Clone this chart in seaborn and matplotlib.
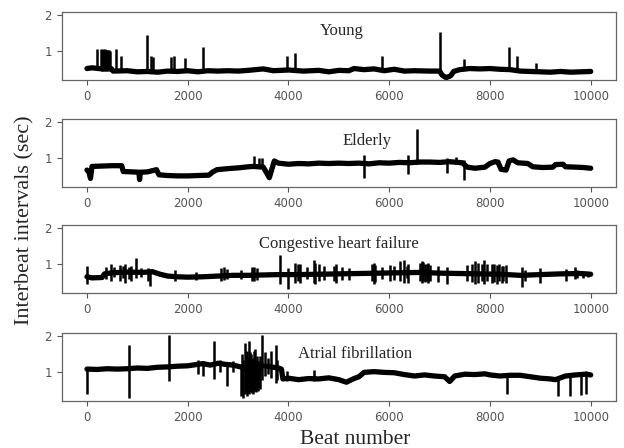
import numpy as np
import pandas as pd
import matplotlib
matplotlib.use("Agg")
import matplotlib.pyplot as plt
import seaborn as sns

# ---- baseline levels (beat, interval in sec) ----
young_beat = [0, 100, 300, 480, 520, 800, 1000, 1200, 1400, 1600, 1800, 2000, 2200, 2400,
              2600, 2800, 3000, 3200, 3500, 3700, 4000, 4300, 4600, 4800, 5000, 5200, 5300,
              5500, 5700, 5900, 6100, 6300, 6500, 6800, 7000, 7050, 7130, 7220, 7280, 7400,
              7600, 7800, 8000, 8200, 8400, 8600, 8800, 9000, 9200, 9400, 9600, 9800, 10000]
young_ibi = [0.53, 0.55, 0.52, 0.53, 0.46, 0.47, 0.44, 0.45, 0.43, 0.46, 0.45, 0.47, 0.44, 0.47,
             0.46, 0.47, 0.46, 0.48, 0.52, 0.47, 0.49, 0.46, 0.48, 0.44, 0.48, 0.47, 0.53,
             0.50, 0.52, 0.47, 0.51, 0.46, 0.47, 0.46, 0.46, 0.35, 0.28, 0.33, 0.45, 0.50,
             0.53, 0.52, 0.53, 0.51, 0.50, 0.46, 0.45, 0.44, 0.43, 0.45, 0.43, 0.44, 0.45]

elderly_beat = [0, 40, 70, 100, 300, 500, 690, 720, 900, 1030, 1045, 1060, 1200, 1380, 1430,
                1600, 1800, 2000, 2200, 2420, 2500, 2580, 2800, 3000, 3200, 3300, 3500, 3560,
                3620, 3680, 3720, 3800, 4000, 4200, 4400, 4600, 4800, 5000, 5200, 5400, 5600,
                5800, 6000, 6200, 6400, 6600, 6800, 7000, 7200, 7450, 7550, 7700, 7900, 8000,
                8100, 8160, 8220, 8320, 8380, 8460, 8550, 8750, 8850, 9050, 9250, 9300, 9450,
                9500, 9700, 9850, 10000]
elderly_ibi = [0.68, 0.62, 0.45, 0.78, 0.79, 0.80, 0.80, 0.64, 0.63, 0.62, 0.42, 0.62, 0.63, 0.69, 0.55,
               0.53, 0.52, 0.52, 0.53, 0.54, 0.63, 0.69, 0.72, 0.74, 0.77, 0.78, 0.76, 0.62,
               0.47, 0.75, 0.93, 0.87, 0.84, 0.86, 0.85, 0.87, 0.86, 0.87, 0.86, 0.87, 0.85,
               0.88, 0.87, 0.89, 0.88, 0.90, 0.90, 0.89, 0.91, 0.88, 0.76, 0.73, 0.76, 0.86,
               0.91, 0.90, 0.70, 0.68, 0.93, 0.96, 0.88, 0.86, 0.77, 0.75, 0.76, 0.83, 0.84,
               0.77, 0.76, 0.75, 0.73]

chf_beat = [0, 100, 300, 350, 500, 800, 1100, 1300, 1450, 1600, 1800, 2000, 2300, 2600, 2900,
            3200, 3500, 3800, 4200, 4600, 5000, 5400, 5800, 6200, 6600, 7000, 7400, 7800,
            8200, 8600, 9000, 9400, 9800, 10000]
chf_ibi = [0.66, 0.63, 0.64, 0.74, 0.77, 0.79, 0.78, 0.80, 0.73, 0.68, 0.66, 0.65, 0.66, 0.68, 0.70,
           0.70, 0.71, 0.72, 0.72, 0.73, 0.74, 0.75, 0.76, 0.77, 0.78, 0.76, 0.75, 0.74,
           0.73, 0.70, 0.72, 0.74, 0.75, 0.73]

af_beat = [0, 200, 400, 600, 800, 1000, 1200, 1400, 1600, 1800, 2000, 2150, 2300, 2450, 2600,
           2750, 2900, 3050, 3200, 3350, 3500, 3650, 3800, 3860, 3890, 4000, 4200, 4400, 4600,
           4800, 5000, 5150, 5300, 5400, 5500, 5700, 5900, 6100, 6300, 6500, 6700, 6900, 7100,
           7200, 7300, 7500, 7700, 7900, 8000, 8200, 8400, 8600, 8800, 9000, 9200, 9300, 9500,
           9700, 9900, 10000]
af_ibi = [1.09, 1.08, 1.10, 1.09, 1.10, 1.12, 1.11, 1.14, 1.15, 1.17, 1.18, 1.21, 1.24, 1.20, 1.25,
          1.22, 1.20, 1.15, 1.10, 1.12, 1.18, 1.15, 1.12, 1.09, 0.82, 0.84, 0.80, 0.83, 0.82,
          0.85, 0.80, 0.73, 0.83, 0.88, 1.00, 1.02, 1.00, 0.99, 0.94, 0.90, 0.93, 0.90, 0.88,
          0.75, 0.90, 0.95, 0.94, 0.96, 0.93, 0.90, 0.92, 0.92, 0.88, 0.84, 0.82, 0.80, 0.90,
          0.93, 0.95, 0.93]

# ---- ectopic beats / spikes: beat, lowest, highest value ----
young_spk_beat = [198, 280, 300, 320, 340, 360, 380, 400, 420, 440, 460, 575, 673, 1182, 1280,
                  1320, 1670, 1720, 1940, 2310, 3974, 4125, 5855, 7010, 7491, 8376, 8528, 8905]
young_spk_lo = [0.48, 0.48, 0.47, 0.48, 0.47, 0.48, 0.47, 0.48, 0.47, 0.48, 0.47, 0.44, 0.44, 0.43, 0.43,
                0.43, 0.44, 0.44, 0.44, 0.44, 0.45, 0.45, 0.45, 0.44, 0.48, 0.47, 0.46, 0.44]
young_spk_hi = [1.07, 1.07, 1.05, 1.06, 1.04, 1.06, 1.05, 1.04, 1.05, 1.03, 1.02, 1.06, 0.88, 1.46, 0.88,
                0.85, 0.85, 0.88, 0.81, 1.11, 0.88, 0.95, 0.88, 1.53, 0.79, 1.13, 0.88, 0.69]

elderly_spk_beat = [3314, 3412, 3478, 5492, 6383, 6548, 7142, 7320, 7485]
elderly_spk_lo = [0.78, 0.75, 0.75, 0.47, 0.56, 0.86, 0.60, 0.85, 0.40]
elderly_spk_hi = [1.06, 1.02, 1.02, 1.08, 1.08, 1.82, 1.02, 1.05, 0.95]

chf_spk_beat = [0, 376, 475, 541, 660, 706, 752, 838, 884, 970, 1069, 1215, 1254, 1749, 2158,
                2653, 2720, 2786, 3050, 3280, 3314, 3366, 3842, 4000, 4139, 4185, 4238, 4370,
                4502, 4535, 4601, 4700, 4898, 4950, 5063, 5195, 5657, 5690, 5723, 5855, 6020,
                6086, 6218, 6284, 6350, 6383, 6614, 6647, 6680, 6713, 6746, 6779, 6812, 6977,
                7142, 7538, 7637, 7703, 7769, 7835, 7881, 7934, 8033, 8079, 8132, 8185, 8231,
                8264, 8310, 8627, 8693, 8990, 9518, 9683, 9729, 9848, 9947]
chf_spk_lo = [0.45, 0.60, 0.55, 0.65, 0.55, 0.62, 0.50, 0.60, 0.55, 0.62, 0.65, 0.55, 0.42, 0.55, 0.58,
              0.55, 0.58, 0.60, 0.60, 0.55, 0.55, 0.58, 0.45, 0.33, 0.50, 0.55, 0.48, 0.60,
              0.50, 0.45, 0.55, 0.58, 0.55, 0.50, 0.58, 0.58, 0.55, 0.45, 0.52, 0.60, 0.55,
              0.58, 0.55, 0.50, 0.62, 0.48, 0.55, 0.50, 0.55, 0.52, 0.55, 0.50, 0.55, 0.52,
              0.45, 0.55, 0.52, 0.45, 0.50, 0.55, 0.45, 0.55, 0.48, 0.52, 0.45, 0.55, 0.50,
              0.55, 0.48, 0.38, 0.55, 0.48, 0.55, 0.60, 0.62, 0.62, 0.65]
chf_spk_hi = [0.95, 0.93, 1.00, 0.92, 0.98, 0.95, 1.00, 0.93, 0.95, 1.17, 0.90, 0.90, 0.85, 0.85, 0.80,
              0.90, 0.93, 0.88, 0.86, 0.92, 0.92, 0.90, 1.25, 0.90, 1.05, 1.00, 1.02, 0.92,
              1.12, 1.05, 1.00, 0.95, 0.96, 1.00, 0.92, 0.90, 1.00, 1.05, 0.98, 0.92, 0.98,
              0.95, 1.08, 1.12, 0.95, 1.00, 1.05, 1.08, 1.06, 1.02, 1.00, 1.05, 0.98, 0.95,
              0.92, 0.98, 1.00, 1.08, 1.05, 1.02, 1.12, 1.00, 1.00, 1.02, 0.98, 1.00, 0.96,
              0.95, 0.98, 0.92, 0.85, 0.90, 0.88, 0.92, 0.85, 0.80, 0.80]

af_spk_beat = [0, 838, 1630, 2200, 2300, 2521, 2650, 2786, 2900, 3050, 3070, 3100, 3130, 3150,
               3180, 3200, 3220, 3240, 3260, 3280, 3300, 3320, 3340, 3360, 3380, 3400, 3420,
               3440, 3478, 3540, 3600, 3650, 3743, 3780, 3974, 4500, 8330, 9353, 9584, 9815, 9914]
af_spk_lo = [0.41, 0.31, 0.77, 0.95, 0.90, 0.82, 1.00, 0.63, 1.00, 0.35, 0.45, 0.31, 0.40, 0.50,
             0.35, 0.45, 0.40, 0.50, 0.45, 0.42, 0.40, 0.48, 0.50, 0.45, 0.55, 0.50, 0.60,
             0.55, 0.80, 0.90, 0.95, 0.85, 0.70, 0.80, 0.75, 0.75, 0.41, 0.34, 0.34, 0.38, 0.40]
af_spk_hi = [1.10, 1.75, 2.02, 1.35, 1.30, 1.87, 1.35, 1.20, 1.30, 1.20, 1.50, 1.35, 1.80, 1.45,
             1.60, 1.40, 1.87, 1.55, 1.50, 1.35, 1.40, 1.60, 1.65, 1.35, 1.45, 1.30, 1.30,
             1.45, 2.02, 1.55, 1.40, 1.58, 1.75, 1.35, 1.05, 1.06, 0.92, 0.85, 0.92, 1.00, 1.05]

groups = ["Young", "Elderly", "Congestive heart failure", "Atrial fibrillation"]
base = [(young_beat, young_ibi), (elderly_beat, elderly_ibi), (chf_beat, chf_ibi), (af_beat, af_ibi)]
spikes = [(young_spk_beat, young_spk_lo, young_spk_hi),
          (elderly_spk_beat, elderly_spk_lo, elderly_spk_hi),
          (chf_spk_beat, chf_spk_lo, chf_spk_hi),
          (af_spk_beat, af_spk_lo, af_spk_hi)]
title_pos = [(0.505, 0.72), (0.55, 0.68), (0.50, 0.72), (0.53, 0.69)]

sns.set_style("white")
plt.rcParams["font.family"] = ["DejaVu Sans"]
serif = ["Liberation Serif", "DejaVu Serif"]

fig = plt.figure(figsize=(6.24, 4.48), dpi=100)
bottoms = [0.8214, 0.5826, 0.346, 0.105]
axes = []
for i, b in enumerate(bottoms):
    ax = fig.add_axes([0.099, b, 0.888, 0.152], sharex=axes[0] if axes else None,
                      sharey=axes[0] if axes else None)
    axes.append(ax)

for ax, name, (bx, by), (sx, slo, shi), (tx, ty) in zip(axes, groups, base, spikes, title_pos):
    df = pd.DataFrame({"beat": bx, "ibi": by})
    sns.lineplot(data=df, x="beat", y="ibi", ax=ax, color="black", linewidth=3.8)
    ax.vlines(sx, slo, shi, color="black", linewidth=1.8)
    ax.text(tx, ty, name, transform=ax.transAxes, ha="center", va="center",
            fontsize=12, family=serif)
    ax.set_xlabel("")
    ax.set_ylabel("")
    ax.set_xticks([0, 2000, 4000, 6000, 8000, 10000])
    ax.set_yticks([1, 2])
    ax.tick_params(axis="both", which="both", labelsize=8.5, colors="#555555",
                   length=3.5, width=0.8, direction="out", bottom=True, left=True)
    ax.tick_params(labelbottom=True)
    for sp in ax.spines.values():
        sp.set_color("#666666")
        sp.set_linewidth(0.9)

axes[0].set_xlim(-500, 10500)
axes[0].set_ylim(0.215, 2.085)

fig.text(0.04, 0.509, "Interbeat intervals (sec)", rotation=90, ha="center", va="center",
         fontsize=16, family=serif)
fig.text(0.569, 0.01, "Beat number", ha="center", va="baseline", fontsize=15.5, family=serif)

fig.savefig("out.png", dpi=100)
